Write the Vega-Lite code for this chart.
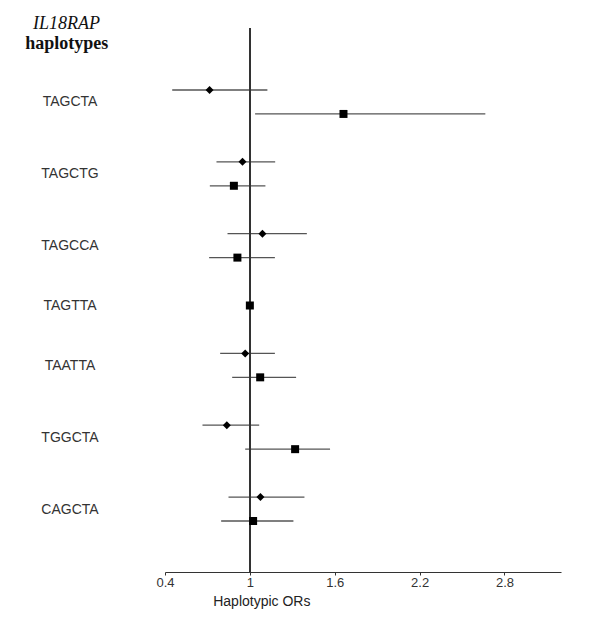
{
  "$schema": "https://vega.github.io/schema/vega-lite/v6.json",
  "autosize": {"type": "none"},
  "padding": {"left": 165, "top": 28, "right": 39, "bottom": 62},
  "width": 396,
  "height": 544,
  "background": "white",
  "config": {"view": {"stroke": null}},
  "title": {
    "text": "IL18RAP",
    "font": "Liberation Serif",
    "fontSize": 18,
    "fontStyle": "italic",
    "fontWeight": "normal",
    "color": "#111",
    "anchor": "start",
    "frame": "group",
    "align": "center",
    "baseline": "alphabetic",
    "offset": 0,
    "dx": -98.5,
    "dy": 20
  },
  "data": {
    "values": [
      {"hap": "TAGCTA", "grp": "a", "row": "TAGCTA-1", "or": 0.715, "lo": 0.451, "hi": 1.124},
      {"hap": "TAGCTA", "grp": "b", "row": "TAGCTA-2", "or": 1.662, "lo": 1.037, "hi": 2.665},
      {"hap": "TAGCTG", "grp": "a", "row": "TAGCTG-1", "or": 0.948, "lo": 0.764, "hi": 1.179},
      {"hap": "TAGCTG", "grp": "b", "row": "TAGCTG-2", "or": 0.887, "lo": 0.717, "hi": 1.11},
      {"hap": "TAGCCA", "grp": "a", "row": "TAGCCA-1", "or": 1.089, "lo": 0.842, "hi": 1.403},
      {"hap": "TAGCCA", "grp": "b", "row": "TAGCCA-2", "or": 0.912, "lo": 0.712, "hi": 1.177},
      {"hap": "TAGTTA", "grp": "b", "row": "TAGTTA", "or": 1.0, "lo": null, "hi": null},
      {"hap": "TAATTA", "grp": "a", "row": "TAATTA-1", "or": 0.967, "lo": 0.79, "hi": 1.177},
      {"hap": "TAATTA", "grp": "b", "row": "TAATTA-2", "or": 1.073, "lo": 0.875, "hi": 1.327},
      {"hap": "TGGCTA", "grp": "a", "row": "TGGCTA-1", "or": 0.837, "lo": 0.665, "hi": 1.066},
      {"hap": "TGGCTA", "grp": "b", "row": "TGGCTA-2", "or": 1.32, "lo": 0.967, "hi": 1.567},
      {"hap": "CAGCTA", "grp": "a", "row": "CAGCTA-1", "or": 1.075, "lo": 0.849, "hi": 1.386},
      {"hap": "CAGCTA", "grp": "b", "row": "CAGCTA-2", "or": 1.023, "lo": 0.797, "hi": 1.308}
    ]
  },
  "layer": [
    {
      "transform": [{"filter": "isValid(datum.lo)"}],
      "mark": {"type": "rule", "color": "#555", "strokeWidth": 1.3},
      "encoding": {
        "x": {
          "field": "lo", "type": "quantitative", "title": "Haplotypic ORs",
          "scale": {"domain": [0.4, 3.2], "nice": false, "zero": false},
          "axis": {
            "values": [0.4, 1, 1.6, 2.2, 2.8],
            "format": "~g",
            "grid": false,
            "domainColor": "#333",
            "domainWidth": 1.2,
            "tickColor": "#333",
            "tickSize": 3,
            "labelFont": "Liberation Sans",
            "labelFontSize": 13,
            "labelColor": "#333",
            "labelPadding": 1,
            "labelFlush": false,
            "titleFont": "Liberation Sans",
            "titleFontSize": 14,
            "titleFontWeight": "normal",
            "titleColor": "#222",
            "titleAlign": "left",
            "titleAnchor": "start",
            "titleX": 47.7,
            "titleY": 29,
            "titleBaseline": "middle"
          }
        },
        "x2": {"field": "hi"},
        "y": {
          "field": "row", "type": "nominal", "title": "haplotypes",
          "scale": {
            "type": "point",
            "padding": 0,
            "domain": ["TAGCTA-1","TAGCTA","TAGCTA-2","g1","g2","g3","TAGCTG-1","TAGCTG","TAGCTG-2","g4","g5","g6","TAGCCA-1","TAGCCA","TAGCCA-2","g7","g8","g9","TAGTTA","g10","g11","g12","TAATTA-1","TAATTA","TAATTA-2","g13","g14","g15","TGGCTA-1","TGGCTA","TGGCTA-2","g16","g17","g18","CAGCTA-1","CAGCTA","CAGCTA-2"],
            "range": [62, 493]
          },
          "axis": {
            "values": ["TAGCTA","TAGCTG","TAGCCA","TAGTTA","TAATTA","TGGCTA","CAGCTA"],
            "domain": false,
            "ticks": false,
            "tickSize": 0,
            "grid": false,
            "labelAlign": "center",
            "labelBaseline": "middle",
            "labelPadding": 95.5,
            "labelOverlap": false,
            "labelFont": "Liberation Sans",
            "labelFontSize": 14,
            "labelColor": "#333",
            "titleAngle": 0,
            "titleX": -98.7,
            "titleY": 20.5,
            "titleAlign": "center",
            "titleBaseline": "alphabetic",
            "titleFont": "Liberation Serif",
            "titleFontSize": 18,
            "titleFontWeight": "bold",
            "titleColor": "#111"
          }
        }
      }
    },
    {
      "mark": {"type": "rule", "color": "#333", "strokeWidth": 1.2},
      "encoding": {"x": {"datum": 1}}
    },
    {
      "mark": {"type": "point", "filled": true, "color": "black", "opacity": 1, "size": 64},
      "encoding": {
        "x": {"field": "or", "type": "quantitative", "title": "Haplotypic ORs"},
        "y": {"field": "row", "type": "nominal", "title": "haplotypes"},
        "shape": {"field": "grp", "type": "nominal", "scale": {"domain": ["a", "b"], "range": ["diamond", "square"]}, "legend": null}
      }
    }
  ]
}
